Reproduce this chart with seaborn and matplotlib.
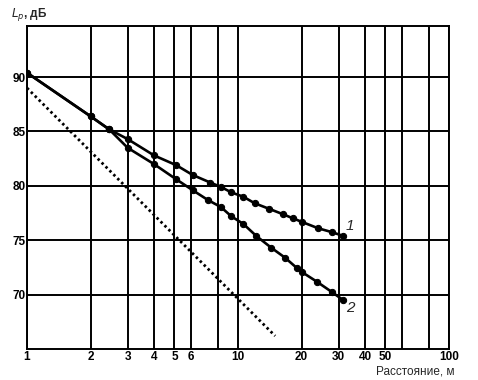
import pandas as pd
import matplotlib
matplotlib.use('Agg')
import matplotlib.pyplot as plt
import matplotlib.ticker as mticker
import seaborn as sns

# curve 1 and curve 2: sound level vs distance
dist_1 = [1, 2, 2.45, 3, 4, 5.1, 6.1, 7.4, 8.3, 9.3, 10.6, 12, 14, 16.3, 18.3, 20, 24, 27.8, 31.5]
level_1 = [90.4, 86.4, 85.2, 84.3, 82.8, 81.9, 81.0, 80.3, 79.9, 79.4, 79.0, 78.4, 77.9, 77.4, 77.0, 76.7, 76.1, 75.75, 75.4]
dist_2 = [1, 2, 2.45, 3, 4, 5.1, 6.1, 7.2, 8.3, 9.3, 10.6, 12.2, 14.4, 16.7, 19, 20, 23.6, 27.8, 31.5]
level_2 = [90.4, 86.4, 85.2, 83.5, 82.0, 80.6, 79.6, 78.7, 78.05, 77.2, 76.5, 75.4, 74.3, 73.4, 72.45, 72.1, 71.2, 70.25, 69.5]
# dotted reference line
dist_free = [1, 15]
level_free = [89.0, 66.2]

x_ticks = [1, 2, 3, 4, 5, 6, 10, 20, 30, 40, 50, 100]
x_minor = [8, 60, 80]
y_ticks = [70, 75, 80, 85, 90]

sns.set_style('white')
plt.rcParams['font.family'] = ['Liberation Sans', 'DejaVu Sans']

curves = pd.concat([
    pd.DataFrame({'dist': dist_1, 'level': level_1, 'curve': '1'}),
    pd.DataFrame({'dist': dist_2, 'level': level_2, 'curve': '2'}),
])

fig = plt.figure(figsize=(4.78, 3.80), dpi=100)
ax = fig.add_axes([27 / 478, 1 - 349 / 380, 422 / 478, 323 / 380])

ax.set_xscale('log')
ax.set_xlim(1, 100)
ax.set_ylim(65, 94.7)

sns.lineplot(data=curves, x='dist', y='level', hue='curve', palette=['black', 'black'],
             marker='o', markersize=4.5, markeredgecolor='black', linewidth=1.9,
             sort=False, legend=False, ax=ax, zorder=3)
sns.lineplot(x=dist_free, y=level_free, color='black', linestyle=(0, (0.9, 1.1)),
             linewidth=2.0, ax=ax, zorder=3)

# curve numbers next to the line ends
ax.text(34, 76.3, '1', fontsize=11, style='italic', ha='center', va='center')
ax.text(34, 68.8, '2', fontsize=11, style='italic', ha='center', va='center')

ax.xaxis.set_major_locator(mticker.FixedLocator(x_ticks))
ax.xaxis.set_major_formatter(mticker.FixedFormatter([str(t) for t in x_ticks]))
ax.xaxis.set_minor_locator(mticker.FixedLocator(x_minor))
ax.xaxis.set_minor_formatter(mticker.NullFormatter())
ax.set_yticks(y_ticks)
ax.set_yticklabels([str(t) for t in y_ticks])
ax.tick_params(axis='both', which='both', length=0, labelsize=8.5, colors='black')
ax.tick_params(axis='x', pad=1.5)
ax.tick_params(axis='y', pad=1)
for lab in ax.get_xticklabels() + ax.get_yticklabels():
    lab.set_fontweight('bold')

ax.grid(True, which='both', color='black', linewidth=1.4)
for s in ax.spines.values():
    s.set_color('black')
    s.set_linewidth(1.4)

ax.set_xlabel('')
ax.set_ylabel('')
fig.text(11 / 478, 1 - 15 / 380, r'$L_p$, дБ', fontsize=8.5, fontweight='bold',
         ha='left', va='center')
fig.text(455 / 478, 1 - 371 / 380, 'Расстояние, м', fontsize=8.5,
         ha='right', va='center')

fig.savefig('out.png', dpi=100)
